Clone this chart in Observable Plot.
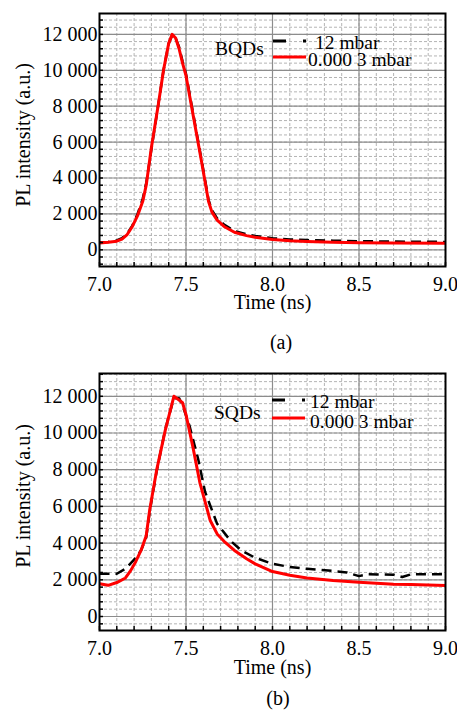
<!DOCTYPE html>
<html>
<head>
<meta charset="utf-8">
<script src="https://cdn.jsdelivr.net/npm/d3@7"></script>
<script src="https://cdn.jsdelivr.net/npm/@observablehq/plot@0.6"></script>
<style>
  html, body { margin: 0; padding: 0; background: #fff; }
  #wrap { position: relative; width: 457px; height: 711px; font-family: "Liberation Serif", "Times New Roman", serif; color: #000; overflow: hidden; }
  #wrap svg, #wrap svg text { font-family: "Liberation Serif", "Times New Roman", serif !important; }
  .abs { position: absolute; }
  .txt { font-size: 19.5px; line-height: 19.5px; white-space: nowrap; }
  .cap { font-size: 20px; line-height: 20px; width: 60px; text-align: center; }
</style>
</head>
<body>
<div id="wrap"></div>
<script>
// ---------------- data ----------------
// Panel (a) BQDs
const timeA = [7.0, 7.05, 7.1, 7.13, 7.16, 7.19, 7.22, 7.25, 7.27, 7.3, 7.34, 7.37, 7.4, 7.42, 7.44, 7.46, 7.48, 7.5, 7.53, 7.56, 7.59, 7.61, 7.63, 7.65, 7.68, 7.72, 7.78, 7.85, 7.9, 8.0, 8.1, 8.2, 8.35, 8.5, 8.7, 9.0];
const bqd12 =  [420, 440, 520, 650, 900, 1350, 2000, 2850, 3700, 5600, 8100, 10000, 11500, 11950, 11800, 11300, 10500, 9800, 8200, 6600, 5000, 3900, 2800, 2200, 1750, 1400, 1050, 860, 770, 650, 580, 540, 510, 480, 460, 440];
const bqd00003 = [380, 420, 480, 600, 850, 1300, 1900, 2700, 3600, 5700, 8100, 10000, 11500, 12000, 11800, 11200, 10400, 9700, 8100, 6500, 4900, 3800, 2700, 2100, 1650, 1300, 980, 790, 700, 580, 500, 460, 420, 400, 380, 360];

// Panel (b) SQDs
const timeB12 = [7.0, 7.1, 7.15, 7.2, 7.24, 7.27, 7.29, 7.33, 7.38, 7.43, 7.46, 7.48, 7.52, 7.57, 7.61, 7.68, 7.76, 7.82, 7.9, 8.0, 8.1, 8.2, 8.35, 8.43, 8.5, 8.55, 8.7, 8.75, 8.8, 9.0];
const sqd12 = [2330, 2330, 2600, 3100, 3600, 4300, 5700, 7900, 10200, 11900, 11900, 11500, 10400, 8600, 6800, 5050, 4100, 3600, 3200, 2870, 2700, 2600, 2480, 2400, 2200, 2300, 2280, 2150, 2300, 2300];
const timeB00003 = [7.0, 7.05, 7.1, 7.15, 7.18, 7.21, 7.24, 7.27, 7.29, 7.33, 7.38, 7.43, 7.46, 7.48, 7.5, 7.54, 7.58, 7.64, 7.68, 7.72, 7.78, 7.85, 7.9, 8.0, 8.1, 8.2, 8.35, 8.5, 8.7, 8.8, 9.0];
const sqd00003 = [1780, 1700, 1850, 2100, 2500, 3000, 3600, 4400, 5800, 7960, 10140, 12000, 11800, 11650, 11000, 9230, 7300, 5230, 4500, 4100, 3600, 3150, 2870, 2450, 2250, 2100, 1960, 1870, 1760, 1750, 1690];

// ticks
const xTicks = [7.0, 7.5, 8.0, 8.5, 9.0];
const xMajorGrid = [7.5, 8.0, 8.5];
const xMinor = d3.range(70, 91).map(d => d / 10);
const yTicks = [0, 2000, 4000, 6000, 8000, 10000, 12000];
const yMinor = d3.range(-800, 13201, 400);
const seriesNames = ["12 mbar", "0.000 3 mbar"];

// ---------------- chart builder ----------------
const FONT = '"Liberation Serif", "Times New Roman", serif';
const FS = 20;
const fmtY = d => d3.format(",")(d).replace(/,/g, " ");
const fmtX = d3.format(".1f");

function panel({height, plotH, yDomain, series, labelDy, xLabelDy}) {
  const ym = yMinor.filter(v => v >= yDomain[0] && v <= yDomain[1]);
  const marks = [
    Plot.gridX(xMinor, {stroke: "#b4b4b4", strokeOpacity: 1, strokeWidth: 1, strokeDasharray: "3,2"}),
    Plot.gridY(ym, {stroke: "#b4b4b4", strokeOpacity: 1, strokeWidth: 1, strokeDasharray: "3,2"}),
    Plot.gridX(xMajorGrid, {stroke: "#8c8c8c", strokeOpacity: 1, strokeWidth: 1.2}),
    Plot.gridY(yTicks, {stroke: "#8c8c8c", strokeOpacity: 1, strokeWidth: 1.2}),
  ];
  for (const s of series) {
    const data = s.t.map((t, i) => ({t, v: s.v[i]}));
    marks.push(Plot.line(data, {x: "t", y: "v", stroke: s.color, strokeWidth: s.width, strokeDasharray: s.dash, strokeLinejoin: "round", strokeLinecap: "butt"}));
  }
  marks.push(
    Plot.axisX(xMinor, {tickSize: 4, dy: -4, tickFormat: () => "", label: null, stroke: "#000", strokeWidth: 1.5}),
    Plot.axisY(ym, {tickSize: 4, dx: 4, tickFormat: () => "", label: null, stroke: "#000", strokeWidth: 1.5}),
    Plot.axisX(xTicks, {tickSize: 0, tickPadding: 10, tickFormat: fmtX, label: null, fontFamily: FONT, fontSize: FS}),
    Plot.axisY(yTicks, {tickSize: 0, tickPadding: 2, tickFormat: fmtY, label: null, fontFamily: FONT, fontSize: FS}),
    Plot.frame({stroke: "#000", strokeWidth: 2}),
    Plot.text(["Time (ns)"], {frameAnchor: "bottom", dy: xLabelDy, lineAnchor: "middle", textAnchor: "middle", text: d => d, fill: "#000", fontFamily: FONT, fontSize: FS}),
    Plot.text(["PL intensity (a.u.)"], {frameAnchor: "left", dx: -76, dy: labelDy, rotate: -90, lineAnchor: "middle", textAnchor: "middle", text: d => d, fill: "#000", fontFamily: FONT, fontSize: FS})
  );
  return Plot.plot({
    width: 457,
    height,
    marginLeft: 99,
    marginRight: 12,
    marginTop: 13,
    marginBottom: height - 13 - plotH,
    x: {domain: [7, 9]},
    y: {domain: yDomain},
    style: {fontFamily: FONT, fontSize: FS + "px", color: "#000", background: "#fff", overflow: "visible"},
    marks
  });
}

const wrap = document.getElementById("wrap");

const chartA = panel({
  height: 318,
  plotH: 253,
  yDomain: [-930, 13165],
  labelDy: -5,
  xLabelDy: 36,
  series: [
    {t: timeA, v: bqd12, color: "#000", width: 2.5, dash: "10,6"},
    {t: timeA, v: bqd00003, color: "#ff0000", width: 3, dash: null}
  ]
});
chartA.style.position = "absolute"; chartA.style.left = "0px"; chartA.style.top = "0px";
wrap.appendChild(chartA);

const chartB = panel({
  height: 322,
  plotH: 257,
  yDomain: [-763, 13243],
  labelDy: -6,
  xLabelDy: 37,
  series: [
    {t: timeB12, v: sqd12, color: "#000", width: 2.5, dash: "10,6"},
    {t: timeB00003, v: sqd00003, color: "#ff0000", width: 3, dash: null}
  ]
});
chartB.style.position = "absolute"; chartB.style.left = "0px"; chartB.style.top = "360px";
wrap.appendChild(chartB);

// ---------------- legends & captions (HTML overlays) ----------------
function addText(str, x, cy, cls = "txt") {
  const d = document.createElement("div");
  d.className = "abs " + cls;
  d.textContent = str;
  d.style.left = x + "px";
  d.style.top = (cy - 9.8) + "px";
  wrap.appendChild(d);
  return d;
}
function addSwatch(x, y, color, dash) {
  const ns = "http://www.w3.org/2000/svg";
  const svg = document.createElementNS(ns, "svg");
  svg.setAttribute("width", 36); svg.setAttribute("height", 6);
  svg.style.position = "absolute"; svg.style.left = x + "px"; svg.style.top = (y - 3) + "px";
  const l = document.createElementNS(ns, "line");
  l.setAttribute("x1", 0); l.setAttribute("x2", 33); l.setAttribute("y1", 3); l.setAttribute("y2", 3);
  l.setAttribute("stroke", color); l.setAttribute("stroke-width", 3);
  if (dash) l.setAttribute("stroke-dasharray", dash);
  svg.appendChild(l);
  wrap.appendChild(svg);
}
function addCaption(str, cx, cy) {
  const d = document.createElement("div");
  d.className = "abs cap";
  d.textContent = str;
  d.style.left = (cx - 30) + "px";
  d.style.top = (cy - 11) + "px";
  wrap.appendChild(d);
}

// (a)
addText("BQDs", 215, 49);
addSwatch(273, 41, "#000", "13,17");
addSwatch(273, 57, "#ff0000", null);
addText(seriesNames[0], 315, 43);
addText(seriesNames[1], 308, 60);
addCaption("(a)", 281, 343);

// (b)
addText("SQDs", 214, 413);
addSwatch(272, 400, "#000", "13,17");
addSwatch(272, 418, "#ff0000", null);
addText(seriesNames[0], 310, 402);
addText(seriesNames[1], 310, 422);
addCaption("(b)", 278, 699);
</script>
</body>
</html>
